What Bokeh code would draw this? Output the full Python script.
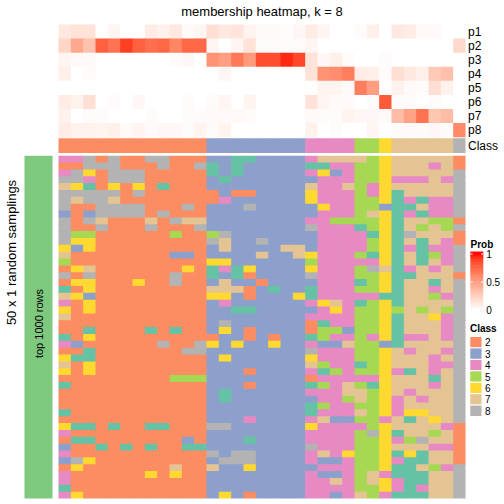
import numpy as np
from bokeh.plotting import figure
from bokeh.models import Range1d, ColumnDataSource
from bokeh.embed import file_html
from bokeh.resources import INLINE
from bokeh.core.properties import value

# ---------------- data ----------------
title = "membership heatmap, k = 8"
prob_names = ["p1", "p2", "p3", "p4", "p5", "p6", "p7", "p8"]
p1 = [0.12, 0.15, 0.15, 0, 0.05, 0, 0, 0.1, 0.07, 0.12, 0.03, 0.05, 0.17, 0.12, 0.14, 0.06, 0.03,
      0.03, 0.01, 0.04, 0.1, 0.05, 0, 0, 0.02, 0.08, 0, 0.12, 0.1, 0.03, 0.03, 0, 0]
p2 = [0.22, 0.45, 0.32, 0.78, 0.7, 0.9, 0.78, 0.72, 0.75, 0.62, 0.75, 0.75, 0.05, 0, 0.05, 0.15, 0.02,
      0.02, 0.02, 0.02, 0.05, 0, 0, 0, 0, 0, 0, 0, 0, 0, 0, 0, 0.2]
p3 = [0.05, 0.03, 0.03, 0, 0, 0, 0, 0, 0, 0.02, 0.04, 0, 0.55, 0.5, 0.68, 0.52, 0.85,
      0.85, 0.95, 0.87, 0.15, 0.04, 0.08, 0.02, 0, 0, 0.02, 0, 0, 0, 0, 0, 0]
p4 = [0.08, 0, 0.02, 0, 0, 0, 0, 0, 0, 0, 0, 0, 0, 0.05, 0, 0, 0,
      0, 0, 0, 0.15, 0.55, 0.58, 0.65, 0.1, 0.08, 0.02, 0.17, 0.12, 0.08, 0.28, 0.33, 0]
p5 = [0, 0, 0, 0, 0, 0, 0, 0, 0, 0, 0, 0, 0, 0, 0, 0, 0,
      0, 0, 0, 0, 0.06, 0.06, 0.02, 0.65, 0.5, 0, 0.07, 0.03, 0.02, 0.17, 0.07, 0]
p6 = [0.1, 0.07, 0.17, 0, 0.02, 0, 0.04, 0, 0, 0, 0.02, 0, 0.02, 0.05, 0, 0.06, 0,
      0, 0, 0, 0.15, 0.05, 0.02, 0.03, 0, 0.02, 0.8, 0.02, 0.02, 0, 0.02, 0, 0]
p7 = [0.07, 0, 0.02, 0.02, 0, 0, 0, 0.02, 0, 0, 0.02, 0.02, 0.03, 0.03, 0.03, 0.02, 0,
      0, 0, 0, 0.03, 0.02, 0.02, 0.06, 0.04, 0.04, 0.03, 0.35, 0.48, 0.7, 0.3, 0.35, 0]
p8 = [0.1, 0.07, 0.07, 0.06, 0.08, 0.03, 0.06, 0.02, 0.04, 0.04, 0.02, 0.06, 0.02, 0.06, 0, 0, 0,
      0, 0, 0, 0.07, 0, 0.02, 0, 0, 0.05, 0, 0.02, 0.03, 0.02, 0.04, 0.02, 0.6]
class_top = [2, 2, 2, 2, 2, 2, 2, 2, 2, 2, 2, 2, 3, 3, 3, 3, 3, 3, 3, 3,
             4, 4, 4, 4, 5, 5, 6, 7, 7, 7, 7, 7, 8]
samplings = [
    [4,4,8,2,8,2,2,8,8,2,2,2,3,3,1,1,3,3,3,3,4,7,7,7,7,5,6,7,7,7,7,7,2],
    [2,2,8,8,8,2,2,2,8,2,2,8,1,3,1,3,3,3,3,3,1,1,4,4,5,5,6,7,7,7,4,7,2],
    [4,8,6,2,8,8,8,2,2,2,2,2,1,3,1,3,3,3,3,3,4,6,3,4,5,5,6,7,7,7,7,7,8],
    [8,8,4,2,8,8,8,2,2,2,2,2,3,1,3,3,3,3,3,3,3,4,4,4,5,5,6,4,4,4,7,4,8],
    [7,6,1,2,6,2,6,2,1,2,2,2,3,3,3,3,3,3,3,3,7,4,4,7,5,4,6,7,7,7,7,7,8],
    [8,8,8,8,8,2,8,2,2,2,2,2,2,3,2,2,3,3,3,3,6,4,4,4,5,4,6,1,7,7,7,7,8],
    [8,7,8,8,7,2,2,2,2,2,2,2,2,4,3,3,3,3,3,3,6,4,4,4,5,5,6,1,4,1,4,4,8],
    [8,2,2,8,8,8,8,2,2,2,8,2,3,3,3,8,3,3,3,3,3,6,4,4,5,5,3,1,1,7,4,4,8],
    [3,2,3,8,8,8,8,2,8,2,2,2,3,3,3,3,3,3,3,3,3,4,4,4,5,7,6,1,4,1,4,4,8],
    [8,2,8,7,2,2,2,7,2,8,7,7,3,3,3,3,3,3,3,3,4,4,5,5,5,5,6,1,7,7,5,5,2],
    [8,2,2,8,2,2,2,8,2,2,2,8,3,3,3,3,3,3,3,3,8,4,4,4,1,5,6,1,7,5,7,5,8],
    [8,5,5,2,2,2,2,2,2,5,2,2,5,8,3,3,3,3,3,3,3,4,4,4,4,1,6,1,8,7,7,7,2],
    [8,6,6,2,2,2,2,2,2,2,2,2,8,7,3,3,8,3,3,3,3,4,4,4,4,5,6,1,7,1,7,4,2],
    [6,3,6,2,2,2,2,2,2,2,2,2,3,7,3,3,3,3,7,7,3,4,4,4,4,5,6,1,4,1,4,4,8],
    [7,2,2,2,2,2,2,2,2,3,3,2,3,3,3,3,7,3,3,7,6,4,4,4,5,1,6,1,7,1,5,4,8],
    [5,2,2,2,2,2,2,2,2,2,2,2,6,6,3,3,3,3,3,3,5,4,4,4,4,4,6,1,7,1,7,4,8],
    [2,6,7,2,2,2,2,2,2,2,6,2,1,4,1,6,3,3,3,3,6,4,4,4,5,8,7,1,4,7,4,7,8],
    [8,2,8,2,2,2,2,2,2,8,2,2,1,3,1,2,3,3,3,3,8,4,4,4,5,5,6,1,1,7,7,7,2],
    [2,6,6,2,2,2,6,2,2,8,2,2,3,7,3,3,2,3,3,3,3,4,4,4,1,5,6,1,7,7,1,7,8],
    [1,2,6,2,2,2,2,2,2,2,2,2,7,7,7,2,3,1,3,3,1,4,4,4,5,5,6,1,7,7,4,7,8],
    [7,6,3,2,2,2,2,2,2,2,2,2,6,6,3,2,3,3,3,6,1,4,4,4,4,4,1,1,7,7,5,4,8],
    [4,2,6,2,2,2,2,2,2,2,2,2,3,4,3,3,3,3,3,3,4,6,7,4,1,5,6,1,7,7,7,7,8],
    [6,2,6,2,2,2,2,2,2,2,2,2,3,3,1,1,3,3,3,3,3,4,6,4,5,5,6,5,7,5,7,5,8],
    [7,2,2,2,2,2,2,2,2,2,2,2,3,3,3,3,3,3,3,3,4,4,4,4,5,5,6,1,7,7,6,4,8],
    [2,2,2,2,2,2,2,2,2,2,2,2,3,8,3,3,3,3,3,3,2,1,4,4,5,5,6,1,7,7,7,4,8],
    [2,2,1,2,2,2,2,1,2,1,2,2,3,6,3,2,3,3,3,3,2,5,5,3,5,5,6,1,7,7,7,4,8],
    [1,2,6,2,2,2,2,2,2,2,2,2,2,3,3,2,3,2,3,3,1,5,4,4,5,4,6,1,4,4,7,4,8],
    [4,3,2,2,2,2,2,2,8,2,2,8,6,3,6,3,3,6,3,3,4,3,3,7,5,5,3,1,7,7,7,7,8],
    [2,2,1,2,2,2,2,2,2,2,8,8,3,3,3,3,3,3,3,3,8,4,4,4,5,5,6,7,4,7,7,4,8],
    [6,1,1,2,2,2,2,2,2,2,2,2,3,6,3,3,3,3,3,3,6,4,4,4,5,5,6,7,7,7,4,7,8],
    [7,2,6,2,2,2,2,2,2,2,2,2,3,3,3,3,3,3,3,3,7,5,4,4,1,5,6,7,7,7,4,4,8],
    [6,2,6,2,2,2,2,2,2,2,2,2,3,3,3,2,3,3,3,3,4,1,5,4,5,5,6,4,1,7,4,7,8],
    [2,2,2,2,2,2,2,2,2,5,5,5,3,3,3,3,3,3,3,3,2,4,4,4,4,4,6,7,7,7,1,7,8],
    [1,2,2,2,2,2,2,2,2,2,2,2,3,3,3,2,3,3,3,3,1,5,4,7,5,1,6,7,7,7,4,7,8],
    [2,2,2,2,2,2,2,2,2,2,2,2,3,1,3,3,3,3,3,3,4,4,4,7,7,5,6,7,4,7,7,7,8],
    [2,2,2,2,2,2,2,2,2,2,2,2,3,1,3,3,3,3,3,3,3,4,4,5,7,5,6,4,7,4,7,7,8],
    [2,2,2,2,2,2,2,2,2,2,2,2,3,3,3,3,3,3,3,3,1,5,4,4,5,5,6,4,7,7,7,7,8],
    [1,2,2,2,2,2,2,2,2,2,2,2,3,3,3,3,3,3,3,3,1,4,4,4,7,5,6,4,6,6,7,7,8],
    [2,2,2,2,2,2,2,2,2,2,2,2,3,3,3,4,3,3,3,3,4,7,3,3,5,5,4,7,1,7,6,7,8],
    [6,1,1,2,1,2,2,1,1,2,2,2,8,8,3,3,3,3,3,3,6,4,4,4,4,5,6,7,7,7,7,4,2],
    [4,2,2,2,2,2,2,2,2,2,2,2,3,3,3,3,3,3,3,3,4,4,4,4,5,8,6,1,7,7,5,7,2],
    [2,1,1,2,2,2,2,2,2,2,3,2,3,3,3,1,3,3,3,3,4,4,4,4,5,5,6,4,5,8,7,7,2],
    [3,2,2,1,2,1,2,1,2,2,1,1,3,3,3,3,3,3,3,3,8,4,4,4,5,5,6,7,7,7,4,4,2],
    [4,2,2,2,2,2,2,2,2,2,2,2,8,3,8,8,3,3,3,3,4,7,4,6,5,5,6,1,6,1,7,7,2],
    [3,8,6,2,2,2,2,2,2,2,2,2,3,8,8,8,3,3,3,3,4,3,3,4,5,5,6,4,1,1,7,7,2],
    [2,6,2,2,2,2,2,2,2,7,2,2,7,3,3,6,3,3,3,3,3,4,4,4,5,5,6,1,1,7,5,4,8],
    [4,2,2,2,2,2,2,6,2,6,2,2,3,3,3,3,3,3,3,3,4,3,3,4,5,7,4,1,1,1,7,7,8],
    [4,2,2,2,2,2,2,2,2,2,2,2,3,3,3,3,3,3,3,3,4,4,7,4,5,7,6,4,1,1,7,7,8],
    [1,2,2,2,2,2,2,2,2,2,2,2,3,3,3,3,3,3,3,3,4,4,4,4,5,5,6,4,1,4,7,7,8],
    [4,6,2,2,2,2,2,2,2,2,2,2,3,6,3,2,3,3,3,3,4,4,3,4,7,5,4,1,1,1,7,7,8],
]
legend_classes = [2, 3, 4, 5, 6, 7, 8]
prob_breaks = [0, 0.5, 1]
prob_break_labels = ["0", "0.5", "1"]
row_title = "50 x 1 random samplings"
strip_label = "top 1000 rows"

# ---------------- styles ----------------
class_colors = {1: "#66C2A5", 2: "#FC8D62", 3: "#8DA0CB", 4: "#E78AC3",
                5: "#A6D854", 6: "#FFD92F", 7: "#E5C494", 8: "#B3B3B3"}
strip_color = "#7FC97F"
FONT = value("Liberation Sans")

# white -> red colour ramp interpolated in LAB space
WN = np.array([0.95047, 1.0, 1.08883])
M = np.array([[0.4124, 0.3576, 0.1805], [0.2126, 0.7152, 0.0722], [0.0193, 0.1192, 0.9505]])
MI = np.linalg.inv(M)


def rgb2lab(rgb):
    c = np.array(rgb, float) / 255
    lin = np.where(c <= 0.04045, c / 12.92, ((c + 0.055) / 1.055) ** 2.4)
    t = (M @ lin) / WN
    f = np.where(t > (6 / 29) ** 3, np.cbrt(t), t / (3 * (6 / 29) ** 2) + 4 / 29)
    return np.array([116 * f[1] - 16, 500 * (f[0] - f[1]), 200 * (f[1] - f[2])])


def lab2hex(lab):
    L, a, b = lab
    fy = (L + 16) / 116
    f = np.array([fy + a / 500, fy, fy - b / 200])
    t = np.where(f > 6 / 29, f ** 3, 3 * (6 / 29) ** 2 * (f - 4 / 29)) * WN
    lin = MI @ t
    c = np.where(lin <= 0.0031308, 12.92 * lin, 1.055 * np.clip(lin, 0, None) ** (1 / 2.4) - 0.055)
    c = np.clip(np.round(c * 255), 0, 255).astype(int)
    return "#%02x%02x%02x" % tuple(c)


LAB_W = rgb2lab([255, 255, 255])
LAB_R = rgb2lab([255, 0, 0])


def prob_color(v):
    v = min(max(v, 0.0), 1.0)
    return lab2hex(LAB_W + (LAB_R - LAB_W) * v)


# ---------------- layout (page pixel space) ----------------
W = 500
NC = len(class_top)
X0, X1 = 58.0, 465.0
CW = (X1 - X0) / NC
TOP_Y0, TOP_Y1 = 24.0, 136.7
TRH = (TOP_Y1 - TOP_Y0) / len(prob_names)
CLS_Y0, CLS_Y1 = 137.8, 152.4
BOT_Y0, BOT_Y1 = 155.2, 498.0
BRH = (BOT_Y1 - BOT_Y0) / len(samplings)
OV = 0.7  # overlap to hide anti-aliasing seams

p = figure(width=W, height=W, x_range=Range1d(0, W), y_range=Range1d(W, 0),
           output_backend="svg", toolbar_location=None, min_border=0,
           x_axis_location=None, y_axis_location=None)
p.grid.visible = False
p.outline_line_color = None
p.background_fill_color = "white"
p.border_fill_color = "white"


def add_cell(store, c, r, y0, rh, nrows, color):
    store["left"].append(X0 + c * CW)
    store["right"].append(X0 + (c + 1) * CW + (OV if c < NC - 1 else 0))
    store["top"].append(y0 + r * rh)
    store["bottom"].append(y0 + (r + 1) * rh + (OV if r < nrows - 1 else 0))
    store["color"].append(color)


cells = dict(left=[], right=[], top=[], bottom=[], color=[])
probs = [p1, p2, p3, p4, p5, p6, p7, p8]
for r, row in enumerate(probs):
    for c, v in enumerate(row):
        add_cell(cells, c, r, TOP_Y0, TRH, len(probs), prob_color(v))
for c, k in enumerate(class_top):
    add_cell(cells, c, 0, CLS_Y0, CLS_Y1 - CLS_Y0, 1, class_colors[k])
for r, row in enumerate(samplings):
    for c, k in enumerate(row):
        add_cell(cells, c, r, BOT_Y0, BRH, len(samplings), class_colors[k])
p.quad(left="left", right="right", top="top", bottom="bottom", source=ColumnDataSource(cells),
       fill_color="color", line_color=None)

# left strip and titles
p.quad(left=[24.0], right=[52.0], top=[BOT_Y0], bottom=[BOT_Y1],
       fill_color=strip_color, line_color=None)
p.text(x=[38.5], y=[323.0], text=[strip_label], angle=np.pi / 2, text_align="center",
       text_baseline="middle", text_font=FONT, text_font_size="11px", text_color="black")
p.text(x=[10.5], y=[252.0], text=[row_title], angle=np.pi / 2, text_align="center",
       text_baseline="middle", text_font=FONT, text_font_size="13px", text_color="black")
p.text(x=[(X0 + X1) / 2], y=[10.5], text=[title], text_align="center", text_baseline="middle",
       text_font=FONT, text_font_size="13px", text_color="black")

# row labels
lab_y = [TOP_Y0 + (i + 0.5) * TRH for i in range(len(prob_names))] + [(CLS_Y0 + CLS_Y1) / 2]
p.text(x=[X1 + 2.5] * len(lab_y), y=lab_y, text=prob_names + ["Class"], text_align="left",
       text_baseline="middle", text_font=FONT, text_font_size="12px", text_color="black")

# Prob legend
LX0, LX1 = 470.0, 482.7
V0_Y, V1_Y = 309.5, 253.5
BAR_T, BAR_B = 251.0, 312.0
p.text(x=[LX0], y=[243.5], text=["Prob"], text_align="left", text_baseline="middle",
       text_font=FONT, text_font_size="10px", text_font_style="bold", text_color="black")
n = 80
ys = np.linspace(BAR_T, BAR_B, n + 1)
grad = dict(left=[], right=[], top=[], bottom=[], color=[])
for i in range(n):
    ym = (ys[i] + ys[i + 1]) / 2
    grad["left"].append(LX0); grad["right"].append(LX1)
    grad["top"].append(ys[i]); grad["bottom"].append(ys[i + 1] + (0.6 if i < n - 1 else 0))
    grad["color"].append(prob_color((V0_Y - ym) / (V0_Y - V1_Y)))
p.quad(left="left", right="right", top="top", bottom="bottom", source=ColumnDataSource(grad),
       fill_color="color", line_color=None)
tick_y = [V0_Y + (V1_Y - V0_Y) * b for b in prob_breaks]
p.segment(x0=[LX0] * 3, x1=[LX0 + 2.2] * 3, y0=tick_y, y1=tick_y, line_color="white", line_width=1)
p.segment(x0=[LX1 - 2.2] * 3, x1=[LX1] * 3, y0=tick_y, y1=tick_y, line_color="white", line_width=1)
p.text(x=[LX1 + 3] * 3, y=tick_y, text=prob_break_labels, text_align="left", text_baseline="middle",
       text_font=FONT, text_font_size="10px", text_color="black")

# Class legend
p.text(x=[LX0 - 0.5], y=[327.5], text=["Class"], text_align="left", text_baseline="middle",
       text_font=FONT, text_font_size="10px", text_font_style="bold", text_color="black")
BH = 11.43
CL_Y0 = 336.0
nl = len(legend_classes)
p.quad(left=[469.3] * nl, right=[481.5] * nl,
       top=[CL_Y0 + i * BH for i in range(nl)], bottom=[CL_Y0 + (i + 1) * BH for i in range(nl)],
       fill_color=[class_colors[k] for k in legend_classes], line_color="white", line_width=1)
p.text(x=[484.5] * nl, y=[CL_Y0 + (i + 0.5) * BH for i in range(nl)],
       text=[str(k) for k in legend_classes], text_align="left", text_baseline="middle",
       text_font=FONT, text_font_size="10px", text_color="black")

open("out.html", "w").write(file_html(p, INLINE))
